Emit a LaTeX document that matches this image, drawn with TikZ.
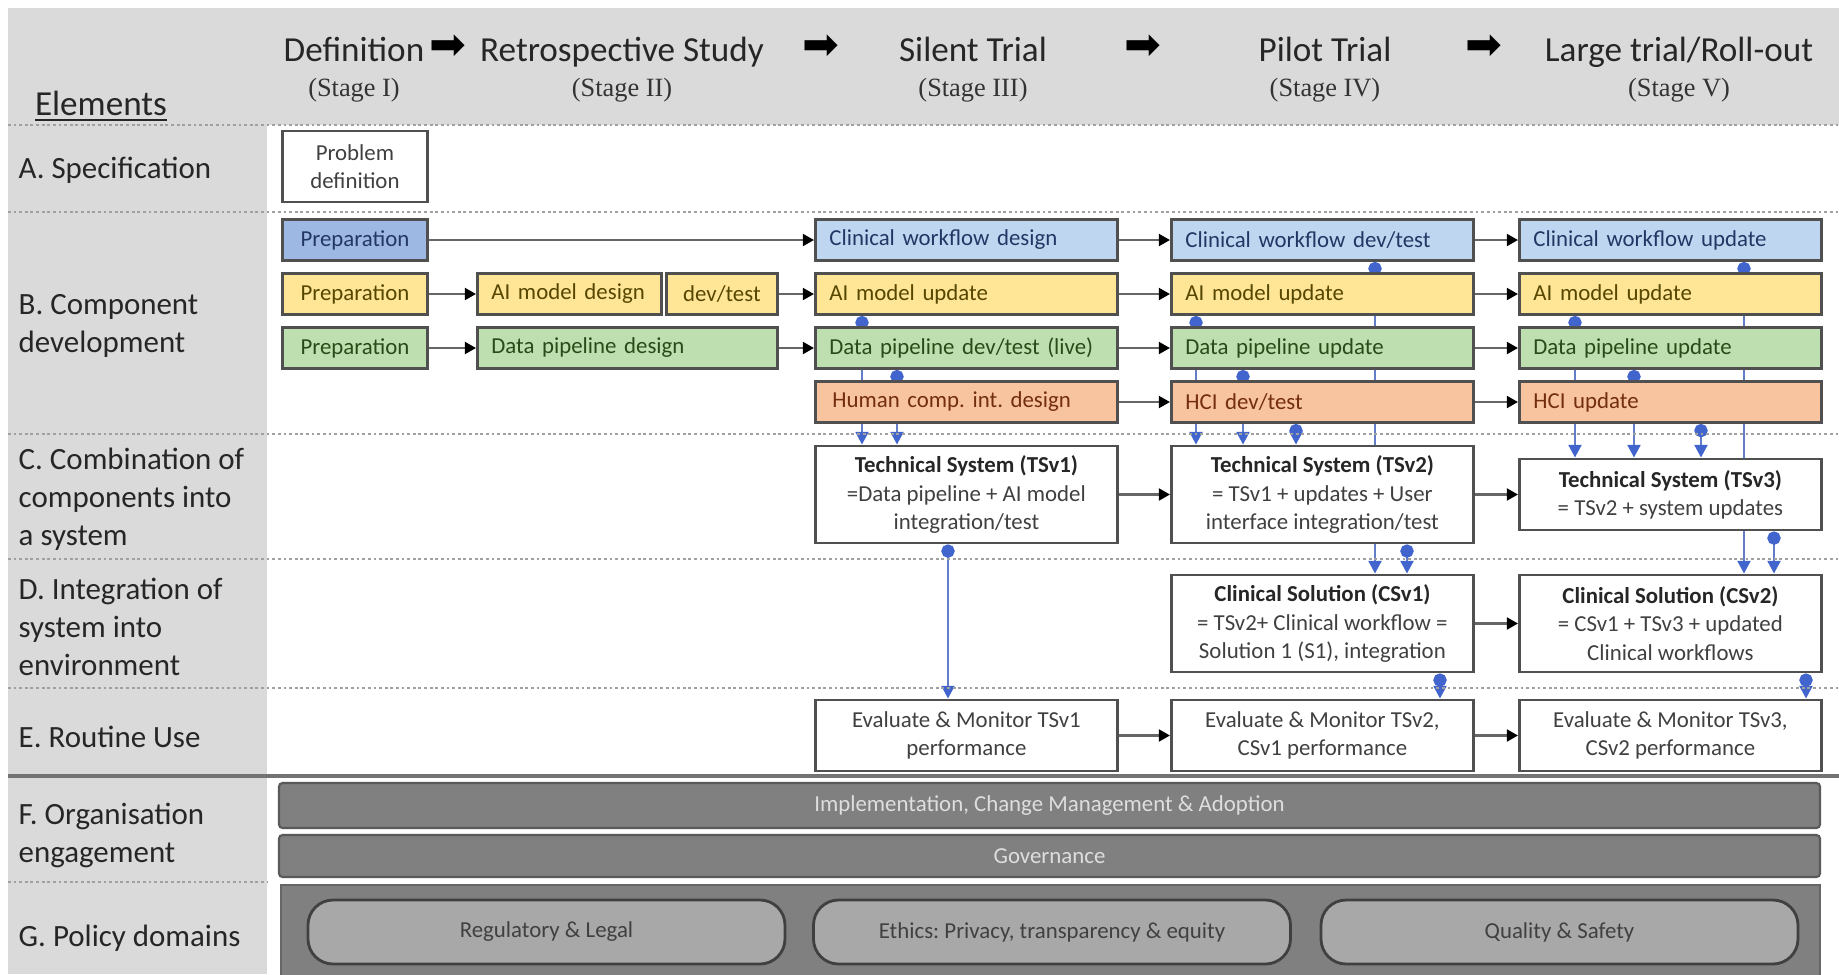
\documentclass[tikz,border=0pt]{standalone}
\usepackage{fontspec}
\setmainfont{Carlito}
\newfontfamily\arrowfont{DejaVu Sans}
\newfontfamily\stagefont{Liberation Serif}
\usetikzlibrary{arrows.meta,backgrounds,positioning}
\frenchspacing

\definecolor{panelgray}{RGB}{218,218,218}
\definecolor{rulegray}{RGB}{160,160,160}
\definecolor{boxline}{RGB}{80,80,80}
\definecolor{prepblue}{RGB}{158,184,228}
\definecolor{wfblue}{RGB}{190,214,240}
\definecolor{aiyellow}{RGB}{255,229,150}
\definecolor{dpgreen}{RGB}{190,224,176}
\definecolor{hciorange}{RGB}{248,196,160}
\definecolor{wftext}{RGB}{35,55,100}
\definecolor{aitext}{RGB}{85,70,0}
\definecolor{dptext}{RGB}{40,75,25}
\definecolor{hcitext}{RGB}{115,45,15}
\definecolor{feedblue}{RGB}{100,125,200}
\definecolor{dotblue}{RGB}{65,100,205}
\definecolor{bargray}{RGB}{128,128,128}
\definecolor{bartext}{RGB}{222,222,222}
\definecolor{domaingray}{RGB}{168,168,168}

\tikzset{
  headtxt/.style={anchor=base,inner sep=0pt,text=black!85,font=\fontsize{10}{12}\selectfont},
  stagetxt/.style={anchor=base,inner sep=0pt,text=black!80,font=\stagefont\fontsize{7.5}{9}\selectfont},
  arrowtxt/.style={inner sep=0pt,font=\arrowfont\fontsize{12.5}{14}\selectfont},
  rowtxt/.style={anchor=west,align=left,inner sep=0pt,text=black!85,font=\fontsize{8.8}{10.8}\selectfont},
  compbox/.style={anchor=west,draw=boxline,line width=.8pt,minimum height=4.1mm,inner xsep=1.4mm,inner ysep=0pt,font=\fontsize{6.5}{8}\selectfont},
  widebox/.style={compbox,text width=27.4mm,align=left},
  prepbox/.style={compbox,minimum width=14.5mm},
  wfcol/.style={fill=wfblue,text=wftext},
  aicol/.style={fill=aiyellow,text=aitext},
  dpcol/.style={fill=dpgreen,text=dptext},
  hcicol/.style={fill=hciorange,text=hcitext},
  sysbox/.style={anchor=west,draw=boxline,line width=.8pt,fill=white,text=black!75,minimum width=30.2mm,inner sep=0pt,align=center,font=\fontsize{6.5}{8}\selectfont},
  bandbox/.style={draw=black!65,line width=.6pt,fill=bargray,rounded corners=1pt,minimum width=154.1mm,inner sep=0pt,text=bartext,font=\fontsize{6.5}{8}\selectfont},
  domainbox/.style={draw=black!75,line width=.8pt,fill=domaingray,rounded corners=2.5mm,minimum width=47.7mm,minimum height=6.4mm,inner sep=0pt,text=black!75,font=\fontsize{6.5}{8}\selectfont},
  sepline/.style={draw=rulegray,line width=.7pt,dash pattern=on .8pt off .8pt},
  flowarrow/.style={draw=black!60,line width=.7pt,-{Triangle[length=3.2pt,width=3.4pt,color=black]}},
  feedarrow/.style={draw=feedblue,line width=.8pt,{Circle[length=3.8pt,color=dotblue]}-{Triangle[length=3.6pt,width=3.6pt,color=dotblue]}}
}

\begin{document}
\begin{tikzpicture}[x=0.1mm,y=-0.1mm]
  \useasboundingbox (0,0) rectangle (1839,974);
  % grey panels and row rules
  \fill[panelgray] (8,8) rectangle (1839,125);
  \fill[panelgray] (8,125) rectangle (267,974);
  \foreach \y in {125,212,434,559,688}
    \draw[sepline] (8,\y) -- (1839,\y);
  \draw[black!55,line width=1.1pt] (8,776) -- (1839,776);
  \draw[sepline] (8,882) -- (267,882);

  % stages
  \node[headtxt] (elem) at (101,115) {\underline{Elements}};
  \node[headtxt] (defn) at (354,61) {Definition};
  \node[headtxt] (retro) at (622,61) {Retrospective Study};
  \node[headtxt] (silent) at (973,61) {Silent Trial};
  \node[headtxt] (pilot) at (1325,61) {Pilot Trial};
  \node[headtxt] (large) at (1679,61) {Large trial/Roll-out};
  \node[arrowtxt] (go1) at (448,47) {➡};
  \node[arrowtxt] (go2) at (821,47) {➡};
  \node[arrowtxt] (go3) at (1143,47) {➡};
  \node[arrowtxt] (go4) at (1484,47) {➡};
  \node[stagetxt] (st1) at (354,96) {(Stage I)};
  \node[stagetxt] (st2) at (622,96) {(Stage II)};
  \node[stagetxt] (st3) at (973,96) {(Stage III)};
  \node[stagetxt] (st4) at (1325,96) {(Stage IV)};
  \node[stagetxt] (st5) at (1679,96) {(Stage V)};

  % elements
  \node[rowtxt] (rowA) at (18,170) {A. Specification};
  \node[rowtxt] (rowB) at (18,326) {B. Component\\development};
  \node[rowtxt] (rowC) at (18,499) {C. Combination of\\components into\\a system};
  \node[rowtxt] (rowD) at (18,627) {D. Integration of\\system into\\environment};
  \node[rowtxt] (rowE) at (18,737) {E. Routine Use};
  \node[rowtxt] (rowF) at (18,835) {F. Organisation\\engagement};
  \node[rowtxt] (rowG) at (18,938) {G. Policy domains};

  % A
  \node[prepbox,fill=white,text=black!75,minimum height=7.1mm,align=center] (problem) at (281,166.5) {Problem\\definition};

  % B
  \node[prepbox,fill=prepblue,text=wftext] (prepwf) at (281,240) {Preparation};
  \node[prepbox,aicol] (prepai) at (281,294) {Preparation};
  \node[prepbox,dpcol] (prepdp) at (281,348) {Preparation};
  \node[compbox,aicol,text width=15.6mm,align=left] (aidesign) at (476,294) {AI model design};
  \node[compbox,aicol,minimum width=11.1mm] (aidev) at (665,294) {dev/test};
  \node[compbox,dpcol,text width=27.2mm,align=left] (dpdesign) at (476,348) {Data pipeline design};

  \node[widebox,wfcol] (wf3) at (814,240) {Clinical workflow design};
  \node[widebox,aicol] (ai3) at (814,294) {AI model update};
  \node[widebox,dpcol] (dp3) at (814,348) {Data pipeline dev/test (live)};
  \node[widebox,hcicol] (hci3) at (814,402) {\hspace{.3mm}Human comp. int. design};
  \node[widebox,wfcol] (wf4) at (1170,240) {Clinical workflow dev/test};
  \node[widebox,aicol] (ai4) at (1170,294) {AI model update};
  \node[widebox,dpcol] (dp4) at (1170,348) {Data pipeline update};
  \node[widebox,hcicol] (hci4) at (1170,402) {HCI dev/test};
  \node[widebox,wfcol] (wf5) at (1518,240) {Clinical workflow update};
  \node[widebox,aicol] (ai5) at (1518,294) {AI model update};
  \node[widebox,dpcol] (dp5) at (1518,348) {Data pipeline update};
  \node[widebox,hcicol] (hci5) at (1518,402) {HCI update};

  % C, D, E
  \node[sysbox,minimum height=9.7mm] (ts1) at (814,494.5) {\textbf{\color{black!85}Technical System (TSv1)}\\=Data pipeline + AI model\\integration/test};
  \node[sysbox,minimum height=9.7mm] (ts2) at (1170,494.5) {\textbf{\color{black!85}Technical System (TSv2)}\\= TSv1 + updates + User\\interface integration/test};
  \node[sysbox,minimum height=7.1mm] (ts3) at (1518,494.5) {\textbf{\color{black!85}Technical System (TSv3)}\\= TSv2 + system updates};
  \node[sysbox,minimum height=9.7mm] (cs1) at (1170,623.5) {\textbf{\color{black!85}Clinical Solution (CSv1)}\\= TSv2+ Clinical workflow =\\Solution 1 (S1), integration};
  \node[sysbox,minimum height=9.7mm] (cs2) at (1518,623.5) {\textbf{\color{black!85}Clinical Solution (CSv2)}\\= CSv1 + TSv3 + updated\\Clinical workflows};
  \node[sysbox,minimum height=7.1mm] (ev1) at (814,735.5) {Evaluate \& Monitor TSv1\\performance};
  \node[sysbox,minimum height=7.1mm] (ev2) at (1170,735.5) {Evaluate \& Monitor TSv2,\\CSv1 performance};
  \node[sysbox,minimum height=7.1mm] (ev3) at (1518,735.5) {Evaluate \& Monitor TSv3,\\CSv2 performance};

  % F, G
  \node[bandbox,minimum height=4.5mm] (impl) at (1049.5,805.5) {Implementation, Change Management \& Adoption};
  \node[bandbox,minimum height=4.2mm] (gov) at (1049.5,856) {Governance};
  \draw[draw=black!60,line width=.6pt,fill=bargray] (281,885) rectangle (1820,990);
  \node[domainbox] (reg) at (546.5,932) {Regulatory \& Legal};
  \node[domainbox] (ethics) at (1052,932) {Ethics: Privacy, transparency \& equity};
  \node[domainbox] (quality) at (1559.5,932) {Quality \& Safety};

  % stage to stage
  \draw[flowarrow] (prepwf) -- (wf3);
  \draw[flowarrow] (prepai) -- (aidesign);
  \draw[flowarrow] (aidev) -- (ai3);
  \draw[flowarrow] (prepdp) -- (dpdesign);
  \draw[flowarrow] (dpdesign) -- (dp3);
  \draw[flowarrow] (wf3) -- (wf4);
  \draw[flowarrow] (wf4) -- (wf5);
  \draw[flowarrow] (ai3) -- (ai4);
  \draw[flowarrow] (ai4) -- (ai5);
  \draw[flowarrow] (dp3) -- (dp4);
  \draw[flowarrow] (dp4) -- (dp5);
  \draw[flowarrow] (hci3) -- (hci4);
  \draw[flowarrow] (hci4) -- (hci5);
  \draw[flowarrow] (ts1) -- (ts2);
  \draw[flowarrow] (ts2) -- (ts3);
  \draw[flowarrow] (cs1) -- (cs2);
  \draw[flowarrow] (ev1) -- (ev2);
  \draw[flowarrow] (ev2) -- (ev3);

  % components into systems (behind the boxes)
  \begin{scope}[on background layer]
    \draw[feedarrow] ([xshift=4.8mm]ai3.south west) -- ([xshift=4.8mm]ts1.north west);
    \draw[feedarrow] ([xshift=8.3mm]dp3.south west) -- ([xshift=8.3mm]ts1.north west);
    \draw[feedarrow] ([xshift=13.4mm]ts1.south west) -- ([xshift=13.4mm]ev1.north west);
    \draw[feedarrow] ([xshift=20.5mm]wf4.south west) -- ([xshift=20.5mm]cs1.north west);
    \draw[feedarrow] ([xshift=2.6mm]ai4.south west) -- ([xshift=2.6mm]ts2.north west);
    \draw[feedarrow] ([xshift=7.3mm]dp4.south west) -- ([xshift=7.3mm]ts2.north west);
    \draw[feedarrow] ([xshift=12.6mm]hci4.south west) -- ([xshift=12.6mm]ts2.north west);
    \draw[feedarrow] ([xshift=23.7mm]ts2.south west) -- ([xshift=23.7mm]cs1.north west);
    \draw[feedarrow] ([xshift=27mm]cs1.south west) -- ([xshift=27mm]ev2.north west);
    \draw[feedarrow] ([xshift=22.6mm]wf5.south west) -- ([xshift=22.6mm]cs2.north west);
    \draw[feedarrow] ([xshift=5.7mm]ai5.south west) -- ([xshift=5.7mm]ts3.north west);
    \draw[feedarrow] ([xshift=11.6mm]dp5.south west) -- ([xshift=11.6mm]ts3.north west);
    \draw[feedarrow] ([xshift=18.3mm]hci5.south west) -- ([xshift=18.3mm]ts3.north west);
    \draw[feedarrow] ([xshift=25.6mm]ts3.south west) -- ([xshift=25.6mm]cs2.north west);
    \draw[feedarrow] ([xshift=28.8mm]cs2.south west) -- ([xshift=28.8mm]ev3.north west);
  \end{scope}
\end{tikzpicture}
\end{document}
